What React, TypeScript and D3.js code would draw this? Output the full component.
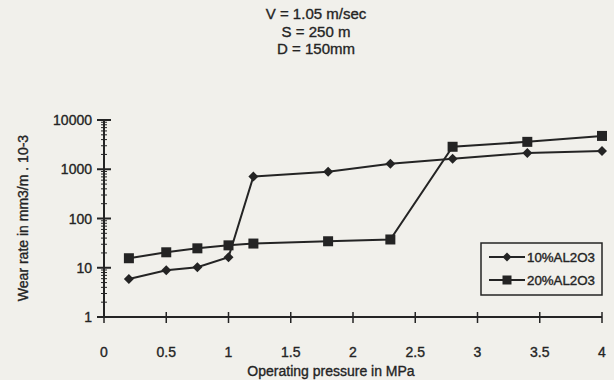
import React from "react";
import * as d3 from "d3";

// Operating pressure (MPa) at which wear was measured
const pressures10 = [0.2, 0.5, 0.75, 1.0, 1.2, 1.8, 2.3, 2.8, 3.4, 4.0];
const pressures20 = [0.2, 0.5, 0.75, 1.0, 1.2, 1.8, 2.3, 2.8, 3.4, 4.0];
// Wear rate in mm3/m . 10-3
const wear10 = [5.9, 8.9, 10.2, 16.3, 710, 890, 1290, 1630, 2150, 2360];
const wear20 = [15.6, 20.6, 24.8, 28.5, 31, 34.5, 37.5, 2860, 3600, 4750];

const seriesNames = ["10%AL2O3", "20%AL2O3"];
const xTicks = [0, 0.5, 1, 1.5, 2, 2.5, 3, 3.5, 4];
const xTickLabels = ["0", "0.5", "1", "1.5", "2", "2.5", "3", "3.5", "4"];
const yTicks = [1, 10, 100, 1000, 10000];
const yTickLabels = ["1", "10", "100", "1000", "10000"];
const headerLines = ["V = 1.05 m/sec", "S = 250 m", "D = 150mm"];

const W = 614;
const H = 380;
const ink = "#242424";
const font = "'Liberation Sans', Arial, sans-serif";
const textStroke = { stroke: ink, strokeWidth: 0.35 };

export default function App() {
  const x = d3.scaleLinear().domain([0, 4]).range([104, 602]);
  const y = d3.scaleLog().domain([1, 10000]).range([317, 120]);

  const line = d3
    .line<[number, number]>()
    .x((d) => x(d[0]))
    .y((d) => y(d[1]));

  const pts10: [number, number][] = pressures10.map((p, i) => [p, wear10[i]]);
  const pts20: [number, number][] = pressures20.map((p, i) => [p, wear20[i]]);

  const minorTicks: number[] = [];
  for (let dec = 1; dec < 10000; dec *= 10) {
    for (let k = 2; k <= 9; k++) minorTicks.push(dec * k);
  }

  const diamond = (cx: number, cy: number, r = 5) =>
    `M${cx},${cy - r}L${cx + r},${cy}L${cx},${cy + r}L${cx - r},${cy}Z`;

  const x0 = x(0);
  const yBase = y(1);

  return (
    <svg
      width={W}
      height={H}
      style={{ position: "absolute", left: 0, top: 0, background: "#f1f0eb" }}
      fontFamily={font}
    >
      <rect x={0} y={0} width={W} height={H} fill="#f1f0eb" />

      {/* header parameters */}
      {headerLines.map((t, i) => (
        <text
          key={t}
          x={316}
          y={19 + i * 17.5}
          textAnchor="middle"
          fontSize={15}
          fill={ink}
          {...textStroke}
        >
          {t}
        </text>
      ))}

      {/* y axis */}
      <line x1={x0} x2={x0} y1={y(10000)} y2={yBase} stroke={ink} strokeWidth={2} />
      {minorTicks.map((v) => (
        <line key={"m" + v} x1={x0 - 3} x2={x0 + 3} y1={y(v)} y2={y(v)} stroke={ink} strokeWidth={1} />
      ))}
      {yTicks.map((v, i) => (
        <g key={"y" + v}>
          <line x1={x0 - 7} x2={x0 + 7} y1={y(v)} y2={y(v)} stroke={ink} strokeWidth={2} />
          <text x={92} y={y(v) + 5} textAnchor="end" fontSize={14} fill={ink} {...textStroke}>
            {yTickLabels[i]}
          </text>
        </g>
      ))}

      {/* x axis */}
      <line x1={x0} x2={x(4)} y1={yBase} y2={yBase} stroke={ink} strokeWidth={2} />
      {xTicks.map((v, i) => (
        <g key={"x" + v}>
          <line x1={x(v)} x2={x(v)} y1={yBase - 5} y2={yBase + 6} stroke={ink} strokeWidth={1.5} />
          <text x={x(v)} y={357} textAnchor="middle" fontSize={14} fill={ink} {...textStroke}>
            {xTickLabels[i]}
          </text>
        </g>
      ))}

      {/* axis titles */}
      <text x={331} y={376} textAnchor="middle" fontSize={14} fill={ink} {...textStroke}>
        Operating pressure in MPa
      </text>
      <text
        transform="translate(28,218) rotate(-90)"
        textAnchor="middle"
        fontSize={14}
        fill={ink}
        {...textStroke}
      >
        Wear rate in mm3/m . 10-3
      </text>

      {/* series */}
      <path d={line(pts10) || ""} fill="none" stroke={ink} strokeWidth={2} />
      <path d={line(pts20) || ""} fill="none" stroke={ink} strokeWidth={2} />
      {pts10.map((d, i) => (
        <path key={"d" + i} d={diamond(x(d[0]), y(d[1]))} fill={ink} />
      ))}
      {pts20.map((d, i) => (
        <rect key={"s" + i} x={x(d[0]) - 5} y={y(d[1]) - 5} width={10} height={10} fill={ink} />
      ))}

      {/* legend */}
      <rect x={481} y={243} width={121} height={52} fill="none" stroke={ink} strokeWidth={1.5} />
      {seriesNames.map((name, i) => {
        const ly = 257 + i * 23;
        return (
          <g key={name}>
            <line x1={489} x2={525} y1={ly} y2={ly} stroke={ink} strokeWidth={2} />
            {i === 0 ? (
              <path d={diamond(507, ly, 4.5)} fill={ink} />
            ) : (
              <rect x={502.5} y={ly - 4.5} width={9} height={9} fill={ink} />
            )}
            <text
              x={527}
              y={ly + 4.5}
              fontSize={12}
              fill={ink}
              textLength={68}
              lengthAdjust="spacingAndGlyphs"
              {...textStroke}
            >
              {name}
            </text>
          </g>
        );
      })}
    </svg>
  );
}
